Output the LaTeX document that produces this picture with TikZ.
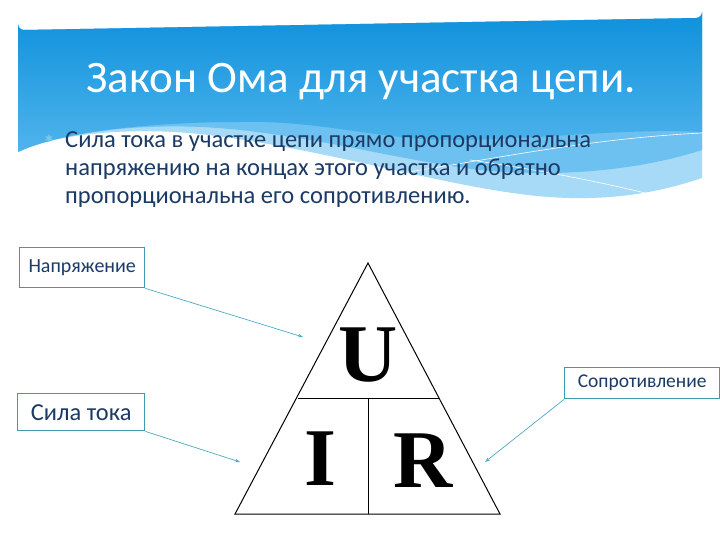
\documentclass[tikz,border=0pt]{standalone}
\usepackage{fontspec}
\setmainfont{Carlito}
\newfontfamily\timesb{Liberation Serif}
\newfontfamily\dejavu{DejaVu Sans}
\usetikzlibrary{arrows.meta}
\definecolor{bannertop}{HTML}{0E91DC}
\definecolor{bannerbot}{HTML}{4FB4EC}
\definecolor{wavemid}{HTML}{6CC1F0}
\definecolor{wavelight}{HTML}{A7DAF6}
\definecolor{navytext}{HTML}{1B3A64}
\definecolor{boxteal}{HTML}{3E9AAE}
\definecolor{arrowblue}{HTML}{4BACC6}
\definecolor{bulletblue}{HTML}{7CC8F0}
\tikzset{
  lbl/.style={draw=boxteal, line width=1.4pt, fill=white, text=navytext, inner sep=0pt, anchor=north west},
  conn/.style={draw=arrowblue, line width=0.7pt, -{Stealth[length=5pt,width=3.5pt]}},
  tri/.style={draw=black, line width=1pt},
  big/.style={font=\timesb\bfseries\fontsize{82}{82}\selectfont, inner sep=0pt},
  body/.style={anchor=base west, inner sep=0pt, text=navytext, font=\fontsize{24.5}{24.5}\selectfont},
}
\begin{document}
\begin{tikzpicture}[x=1pt,y=-1pt]
\useasboundingbox (0,0) rectangle (720,540);
\fill[white] (0,0) rectangle (720,540);
% banner: lightest wave layer
\fill[wavelight] (18,24) arc[start angle=180,end angle=90,radius=6] -- (696,18) arc[start angle=90,end angle=0,radius=6]
  -- (702,178) .. controls (660,192) and (620,199) .. (570,198)
  .. controls (470,196) and (340,150) .. (200,134)
  .. controls (120,126) and (50,136) .. (18,152) -- cycle;
% middle wave layer
\fill[wavemid] (18,24) arc[start angle=180,end angle=90,radius=6] -- (696,18) arc[start angle=90,end angle=0,radius=6]
  -- (702,150) .. controls (640,170) and (560,178) .. (480,170)
  .. controls (400,160) and (330,140) .. (240,130)
  .. controls (150,120) and (60,132) .. (18,152) -- cycle;
% top gradient area
\shade[top color=bannertop, bottom color=bannerbot] (18,24) arc[start angle=180,end angle=90,radius=6] -- (696,18) arc[start angle=90,end angle=0,radius=6]
  -- (702,132) .. controls (620,128) and (540,140) .. (450,140)
  .. controls (380,140) and (320,120) .. (240,122)
  .. controls (150,122) and (60,132) .. (18,152) -- cycle;
% white decorative lines
\draw[white, line width=0.6pt] (330,182) .. controls (450,170) and (560,140) .. (702,133);
\draw[white, line width=0.6pt] (470,160) .. controls (540,170) and (600,182) .. (645,193);
% title
\node[anchor=base west, inner sep=0pt, text=white, font=\fontsize{45}{45}\selectfont] (title) at (86,93) {Закон Ома для участка цепи.};
% bullet and body text
\node[inner sep=0pt, text=bulletblue, font=\dejavu\fontsize{10}{10}\selectfont] (bul) at (49,139) {✱};
\node[body] (l1) at (65,148) {Сила тока в участке цепи прямо пропорциональна};
\node[body] (l2) at (65,176) {напряжению на концах этого участка и обратно};
\node[body] (l3) at (65,204) {пропорциональна его сопротивлению.};
% triangle
\coordinate (apex) at (368,263);
\coordinate (bl) at (235,514);
\coordinate (br) at (500,514);
\coordinate (ml) at (298,398);
\coordinate (mr) at (439,398);
\coordinate (mt) at (368,398);
\coordinate (mb) at (368,514);
\draw[tri] (apex) -- (bl) -- (br) -- cycle;
\draw[tri] (ml) -- (mr);
\draw[tri] (mt) -- (mb);
\node[big] (U) at (368,355) {U};
\node[big] (I) at (320,459) {I};
\node[big] (R) at (423,461) {R};
% labels
\node[lbl, minimum width=125pt, minimum height=40pt, font=\fontsize{20}{20}\selectfont] (nap) at (19,247) {Напряжение};
\node[lbl, minimum width=127pt, minimum height=37pt, font=\fontsize{24.4}{24.4}\selectfont] (sila) at (17,393) {Сила тока};
\node[lbl, minimum width=155pt, minimum height=31pt, font=\fontsize{19.5}{19.5}\selectfont] (sop) at (564,367) {Сопротивление};
% connectors
\coordinate (tU) at (303,337);
\coordinate (tI) at (240,462);
\coordinate (tR) at (485,462);
\draw[conn] (nap.south east) -- (tU);
\draw[conn] (sila.south east) -- (tI);
\draw[conn] (sop.south west) -- (tR);
\end{tikzpicture}
\end{document}
